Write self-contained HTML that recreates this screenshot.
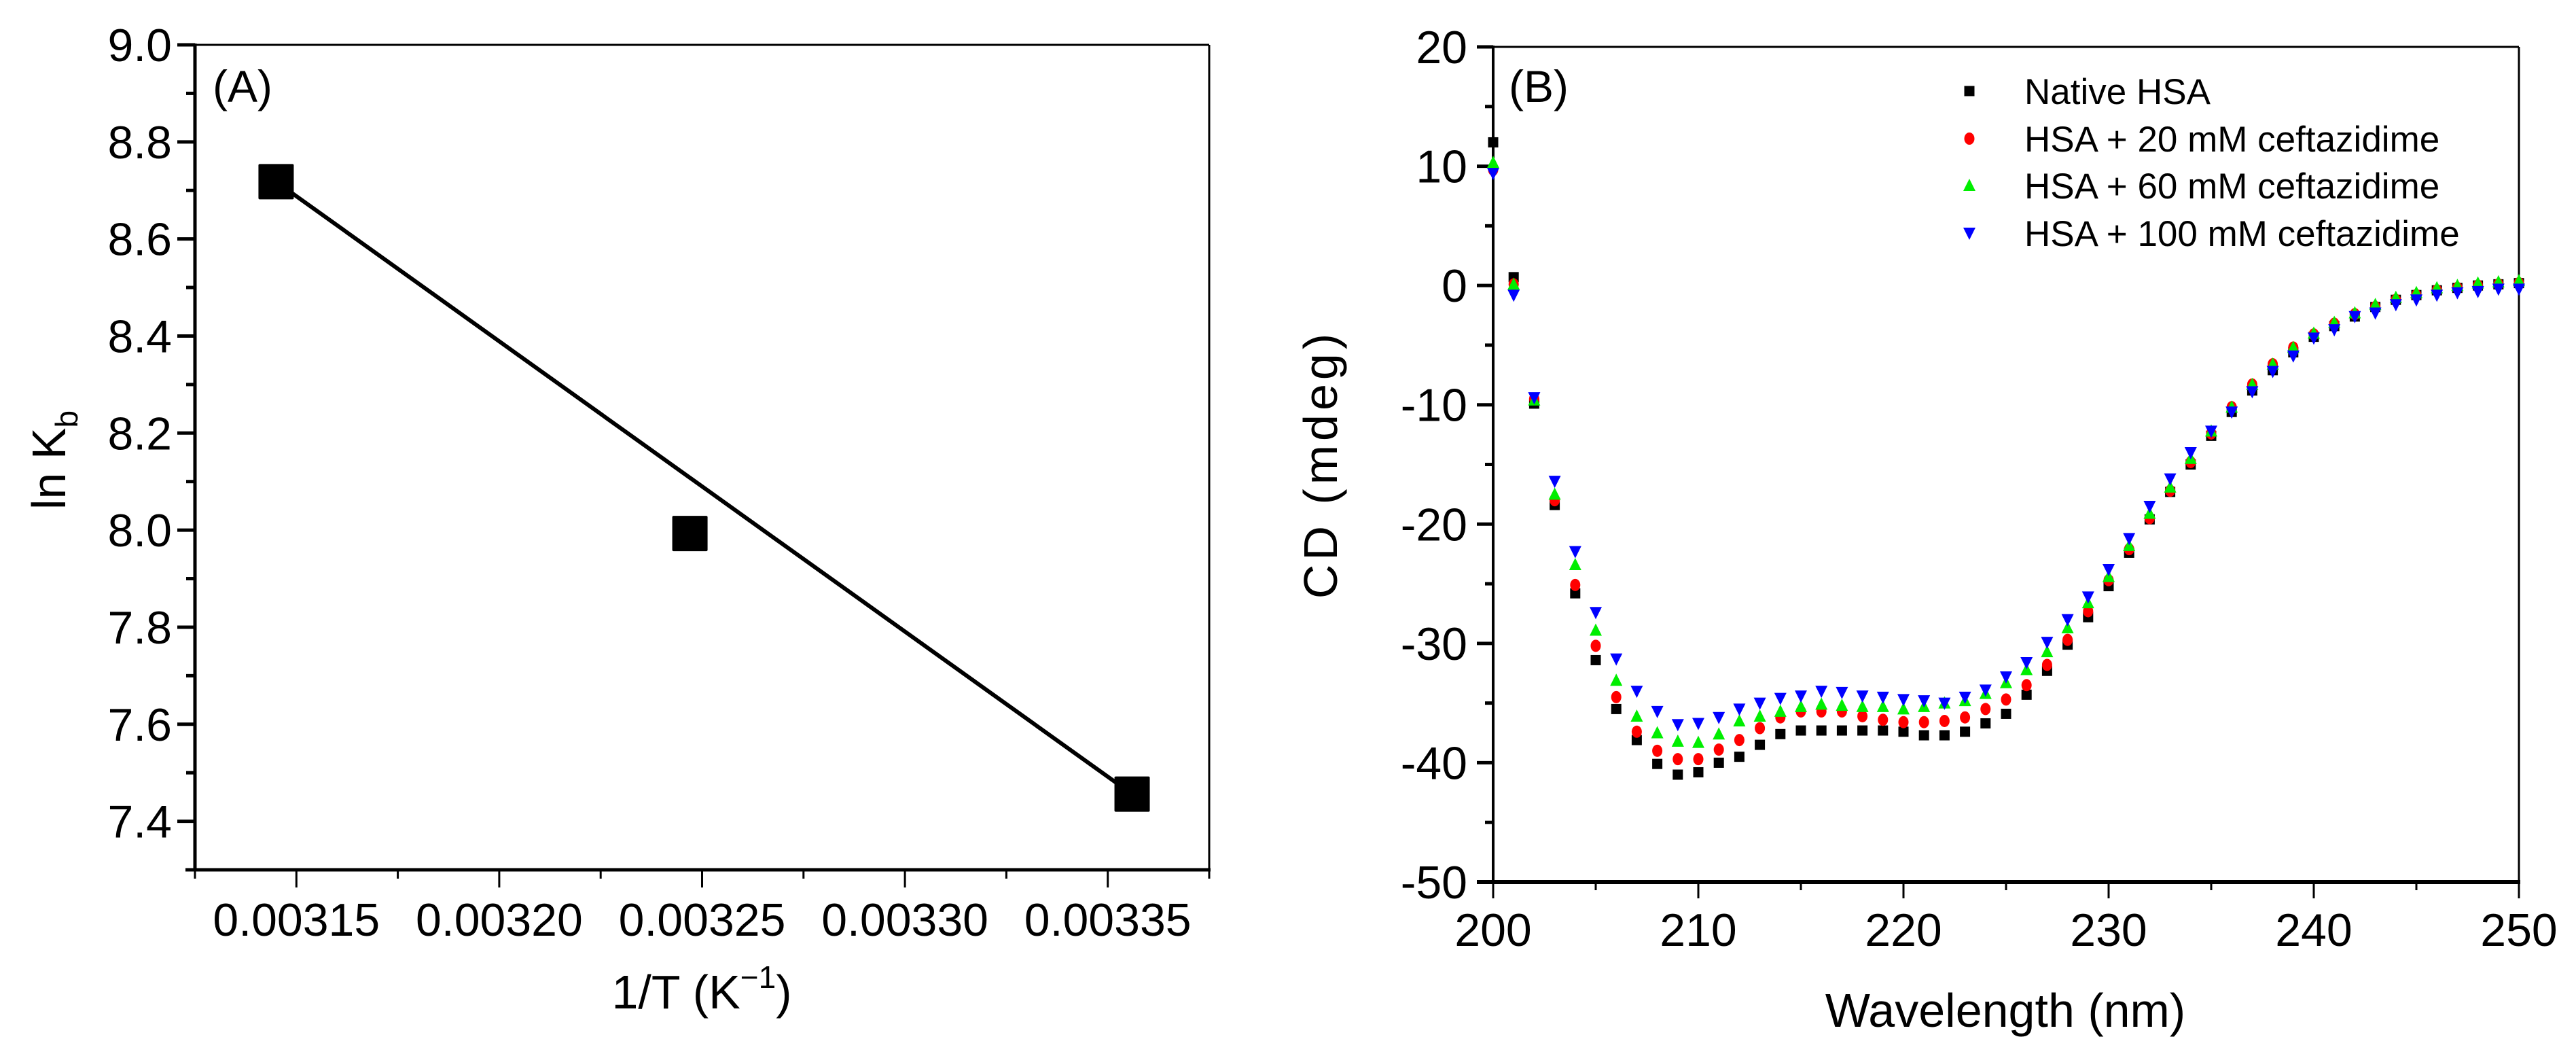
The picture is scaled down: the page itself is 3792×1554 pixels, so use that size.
<!DOCTYPE html>
<html><head><meta charset="utf-8">
<style>
html,body{margin:0;padding:0;background:#fff;}
svg{display:block;}
text{font-family:"Liberation Sans",Arial,sans-serif;fill:#000;}
</style></head>
<body>
<svg id="fig" width="3792" height="1554" viewBox="0 0 3792 1554" xmlns="http://www.w3.org/2000/svg">
<g id="pa"></g>
<g id="pb"></g>
</svg>
<script>
// Panel A data
const aX = [0.003145, 0.003247, 0.003356];
const aY = [8.718, 7.993, 7.456];
const aXTicks = [0.00315, 0.00320, 0.00325, 0.00330, 0.00335];
const aXTickLabels = ["0.00315","0.00320","0.00325","0.00330","0.00335"];
const aYTicks = [7.4, 7.6, 7.8, 8.0, 8.2, 8.4, 8.6, 8.8, 9.0];
const aYTickLabels = ["7.4","7.6","7.8","8.0","8.2","8.4","8.6","8.8","9.0"];

// Panel B data
const wl = [200,201,202,203,204,205,206,207,208,209,210,211,212,213,214,215,216,217,218,219,220,221,222,223,224,225,226,227,228,229,230,231,232,233,234,235,236,237,238,239,240,241,242,243,244,245,246,247,248,249,250];
const native = [12.0,0.7,-9.9,-18.4,-25.8,-31.4,-35.5,-38.1,-40.1,-41.0,-40.8,-40.0,-39.5,-38.5,-37.6,-37.3,-37.3,-37.3,-37.3,-37.3,-37.4,-37.7,-37.7,-37.4,-36.7,-35.9,-34.3,-32.3,-30.1,-27.8,-25.2,-22.4,-19.6,-17.3,-15.0,-12.6,-10.6,-8.8,-7.1,-5.6,-4.3,-3.4,-2.6,-1.8,-1.2,-0.8,-0.4,-0.2,0.0,0.1,0.2];
const c20 = [9.7,0.1,-9.5,-18.0,-25.1,-30.2,-34.5,-37.4,-39.0,-39.7,-39.7,-38.9,-38.1,-37.1,-36.2,-35.7,-35.7,-35.7,-36.1,-36.4,-36.6,-36.6,-36.5,-36.2,-35.5,-34.7,-33.5,-31.8,-29.7,-27.3,-24.7,-22.1,-19.5,-17.2,-14.8,-12.4,-10.2,-8.3,-6.6,-5.2,-4.1,-3.2,-2.4,-1.8,-1.2,-0.8,-0.4,-0.2,0.0,0.1,0.2];
const c60 = [10.3,0.1,-9.6,-17.5,-23.4,-28.9,-33.1,-36.1,-37.5,-38.2,-38.3,-37.6,-36.5,-36.1,-35.7,-35.3,-35.1,-35.2,-35.3,-35.3,-35.5,-35.3,-35.0,-34.8,-34.2,-33.3,-32.2,-30.7,-28.7,-26.6,-24.4,-21.8,-19.1,-16.9,-14.5,-12.2,-10.2,-8.3,-6.6,-5.2,-4.0,-3.1,-2.3,-1.6,-1.0,-0.6,-0.2,0.0,0.2,0.3,0.4];
const c100 = [9.4,-0.8,-9.4,-16.4,-22.3,-27.4,-31.3,-34.0,-35.7,-36.8,-36.7,-36.2,-35.5,-35.0,-34.6,-34.4,-34.0,-34.1,-34.4,-34.5,-34.7,-34.8,-35.0,-34.5,-33.9,-32.8,-31.6,-29.9,-28.0,-26.1,-23.8,-21.2,-18.5,-16.2,-14.0,-12.2,-10.6,-8.9,-7.2,-5.9,-4.4,-3.7,-2.6,-2.3,-1.6,-1.2,-0.8,-0.6,-0.5,-0.3,-0.3];
const bXTicks = [200,210,220,230,240,250];
const bXTickLabels = ["200","210","220","230","240","250"];
const bYTicks = [-50,-40,-30,-20,-10,0,10,20];
const bYTickLabels = ["-50","-40","-30","-20","-10","0","10","20"];
const legendLabels = ["Native HSA","HSA + 20 mM ceftazidime","HSA + 60 mM ceftazidime","HSA + 100 mM ceftazidime"];

const NS = "http://www.w3.org/2000/svg";
function mk(parent, tag, attrs, txt){
  const e = document.createElementNS(NS, tag);
  for (const k in attrs) e.setAttribute(k, attrs[k]);
  if (txt !== undefined) e.textContent = txt;
  parent.appendChild(e);
  return e;
}

// ---------- Panel A ----------
const A = document.getElementById('pa');
const aL=287, aR=1780, aT=66, aB=1280;
const aX0=0.003125, aX1=0.003375, aY0=7.3, aY1=9.0;
const ax = v => aL + (v-aX0)/(aX1-aX0)*(aR-aL);
const ay = v => aB - (v-aY0)/(aY1-aY0)*(aB-aT);

let e;
e = mk(A,'line',{x1:aL,y1:aT,x2:aR,y2:aT,stroke:'#000','stroke-width':3});
 
e = mk(A,'line',{x1:aR,y1:aT,x2:aR,y2:aB,stroke:'#000','stroke-width':3});
 
e = mk(A,'line',{x1:aL,y1:aT-2,x2:aL,y2:aB+2,stroke:'#000','stroke-width':5});
 
e = mk(A,'line',{x1:aL-14,y1:aB,x2:aR+2,y2:aB,stroke:'#000','stroke-width':5});
 

for (let v=7.3; v<=9.0001; v+=0.1){
  const major = aYTicks.some(t=>Math.abs(t-v)<1e-6);
  e = mk(A,'line',{x1:aL-(major?26:13),y1:ay(v),x2:aL,y2:ay(v),stroke:'#000','stroke-width':5});
   
}
aYTicks.forEach((t,i)=>{
  e = mk(A,'text',{x:aL-34,y:ay(t)+24,'font-size':68,'text-anchor':'end'},aYTickLabels[i]);
   
});
for (let v=aX0; v<=aX1+1e-9; v+=0.000025){
  const major = aXTicks.some(t=>Math.abs(t-v)<1e-9);
  e = mk(A,'line',{x1:ax(v),y1:aB,x2:ax(v),y2:aB+(major?26:13),stroke:'#000','stroke-width':3});
   
}
aXTicks.forEach((t,i)=>{
  e = mk(A,'text',{x:ax(t),y:1377,'font-size':68,'text-anchor':'middle'},aXTickLabels[i]);
   
});

// fit line drawn from first to last data point
(function(){
  const n=aX.length;
  e = mk(A,'line',{x1:ax(aX[0]),y1:ay(aY[0]),x2:ax(aX[n-1]),y2:ay(aY[n-1]),stroke:'#000','stroke-width':6});
   
})();
aX.forEach((x,i)=>{
  e = mk(A,'rect',{x:ax(x)-26,y:ay(aY[i])-26,width:52,height:52,rx:2,fill:'#000'});
   
});
e = mk(A,'text',{x:313,y:150,'font-size':66},'(A)');
 
e = mk(A,'text',{x:1033,y:1484,'font-size':70,'text-anchor':'middle'});
 
e.innerHTML = '1/T (K<tspan dy="-30" font-size="46">\u22121</tspan><tspan dy="30">)</tspan>';
e = mk(A,'text',{x:0,y:0,'font-size':70,'text-anchor':'middle',transform:'translate(96,677) rotate(-90)'});
 
e.innerHTML = 'ln K<tspan dy="18" font-size="46">b</tspan>';

// ---------- Panel B ----------
const B = document.getElementById('pb');
const bL=2198, bR=3708, bT=69, bB=1298;
const bx = v => bL + (v-200)/50*(bR-bL);
const by = v => bB - (v+50)/70*(bB-bT);

e = mk(B,'line',{x1:bL,y1:bT,x2:bR,y2:bT,stroke:'#000','stroke-width':3});
 
e = mk(B,'line',{x1:bR,y1:bT,x2:bR,y2:bB,stroke:'#000','stroke-width':3});
 
e = mk(B,'line',{x1:bL,y1:bT-2,x2:bL,y2:bB+2,stroke:'#000','stroke-width':4});
 
e = mk(B,'line',{x1:bL-24,y1:bB,x2:bR+2,y2:bB,stroke:'#000','stroke-width':6});
 
for (let v=-50; v<=20; v+=5){
  const major = v%10===0;
  e = mk(B,'line',{x1:bL-(major?24:12),y1:by(v),x2:bL,y2:by(v),stroke:'#000','stroke-width':5});
   
}
bYTicks.forEach((t,i)=>{
  e = mk(B,'text',{x:bL-38,y:by(t)+24,'font-size':68,'text-anchor':'end'},bYTickLabels[i]);
   
});
for (let v=200; v<=250; v+=5){
  const major = v%10===0;
  e = mk(B,'line',{x1:bx(v),y1:bB,x2:bx(v),y2:bB+(major?24:12),stroke:'#000','stroke-width':3});
   
}
bXTicks.forEach((t,i)=>{
  e = mk(B,'text',{x:bx(t),y:1392,'font-size':68,'text-anchor':'middle'},bXTickLabels[i]);
   
});

function marker(g, kind, cx, cy){
  let m;
  if (kind===0) m = mk(g,'rect',{x:cx-7.5,y:cy-7.5,width:15,height:15,fill:'#000'});
  else if (kind===1) m = mk(g,'ellipse',{cx:cx,cy:cy,rx:7.5,ry:9,fill:'#ff0000'});
  else if (kind===2) m = mk(g,'polygon',{points:`${cx},${cy-10} ${cx+9},${cy+8} ${cx-9},${cy+8}`,fill:'#00ee00'});
  else m = mk(g,'polygon',{points:`${cx-9},${cy-8} ${cx+9},${cy-8} ${cx},${cy+10}`,fill:'#0000ff'});
  return m;
}
const seriesList = [native, c20, c60, c100];
const seriesNames = ['series-native-hsa','series-20mm','series-60mm','series-100mm'];
seriesList.forEach((s,k)=>{
  const g = mk(B,'g',{});
  
  
  s.forEach((v,i)=>{
    const m = marker(g,k,bx(wl[i]),by(v));
    
    
  });
});

// legend
const lg = mk(B,'g',{});


const legY = [134, 204, 273, 343];
legendLabels.forEach((lab,k)=>{
  const m = marker(lg,k,2899,legY[k]);
  
  
  const t = mk(lg,'text',{x:2980,y:legY[k]+19,'font-size':53},lab);
  
  
});

e = mk(B,'text',{x:2221,y:150,'font-size':66},'(B)');
 
e = mk(B,'text',{x:2952,y:1511,'font-size':70,'text-anchor':'middle'},'Wavelength (nm)');
 
e = mk(B,'text',{x:0,y:0,'font-size':70,'text-anchor':'middle','letter-spacing':6,transform:'translate(1968,683) rotate(-90)'},'CD (mdeg)');
 
</script>
</body></html>
